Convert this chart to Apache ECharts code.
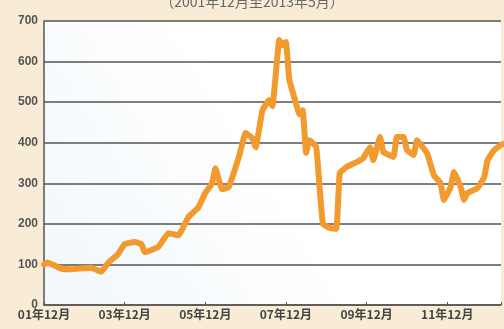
<!DOCTYPE html>
<html><head><meta charset="utf-8">
<script src="https://cdn.jsdelivr.net/npm/echarts@6/dist/echarts.min.js"></script>
<style>html,body{margin:0;padding:0;background:#f9ecd7;}#c{width:504px;height:329px;}</style>
</head><body><div id="c"></div>
<script>
// months counted from 2001-12 (0 = 2001年12月)
var months = [0,1,3,5,8,11,14,17,19,22,24,27,29,30,34,37,40,43,46,48,50,51,53,55,58,60,62,63,65,67,68,70,71,72,73,75,76,77,78,79,81,82,83,85,87,88,90,93,95,97,98,100,101,104,105,107,108,110,111,114,116,118,119,121,122,124,125,126,129,131,132,134,136,138];
var prices = [100,105,98,90,88,90,92,82,103,125,150,155,150,130,143,177,172,217,241,276,300,337,285,291,365,424,411,389,480,505,490,653,640,648,555,497,470,480,375,406,390,291,200,190,188,325,340,352,362,389,357,414,377,365,414,414,382,370,406,374,320,300,259,291,328,291,259,276,288,315,357,382,395,400];
var tickLabels = {0:'01年12月',24:'03年12月',48:'05年12月',72:'07年12月',96:'09年12月',120:'11年12月'};
var titleText = '（2001年12月至2013年5月）';

var data = months.map(function(m,i){return [m, prices[i]];});
var chart = echarts.init(document.getElementById('c'));
chart.setOption({
  backgroundColor:'#f9ecd7',
  title:{text:titleText,left:'center',top:-10,textStyle:{fontSize:14,color:'#666',fontWeight:'normal',fontFamily:'Noto Sans CJK SC'}},
  grid:{left:44,right:0,top:21,bottom:24,show:true,borderWidth:0,
    backgroundColor:{type:'linear',x:0,y:1,x2:0.5,y2:0.5,colorStops:[{offset:0,color:'#f1f7fb'},{offset:1,color:'#ffffff'}]}},
  xAxis:{type:'value',min:0,max:136,interval:24,
    axisLine:{show:true,lineStyle:{color:'#555',width:1.5}},
    axisTick:{show:true,inside:true,length:3,lineStyle:{color:'#555'}},
    splitLine:{show:false},
    axisLabel:{formatter:function(v){return tickLabels[v]||'';},color:'#444',fontSize:12,fontWeight:'bold',fontFamily:'Noto Sans CJK SC',margin:3}},
  yAxis:{type:'value',min:0,max:700,interval:100,
    axisLine:{show:true,lineStyle:{color:'#555',width:1.5}},
    axisTick:{show:false},
    splitLine:{show:true,lineStyle:{color:'#555',width:1.5}},
    axisLabel:{color:'#555',fontSize:12,fontWeight:'bold',fontFamily:'Liberation Sans',margin:6}},
  series:[{type:'line',data:data,showSymbol:false,smooth:0.1,
    lineStyle:{color:'#f29a2e',width:6,cap:'round',join:'round'}}]
});
</script></body></html>
